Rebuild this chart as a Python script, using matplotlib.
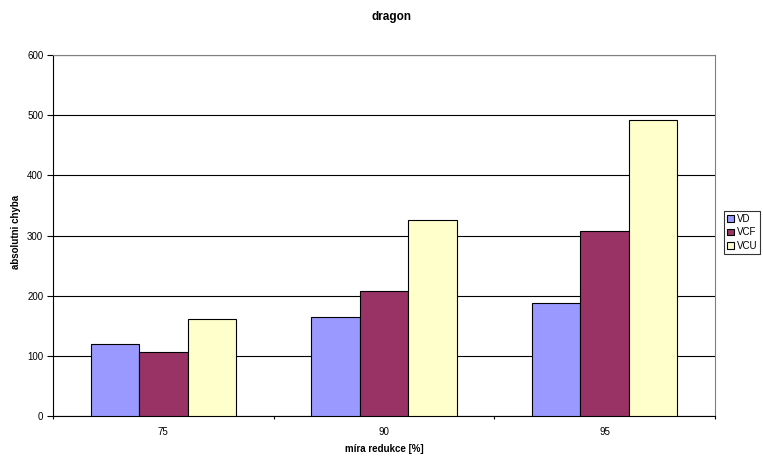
import matplotlib
matplotlib.use("Agg")
import matplotlib.pyplot as plt
import numpy as np

categories = ["75", "90", "95"]
series_names = ["VD", "VCF", "VCU"]
vd = [119, 164, 188]
vcf = [107, 208, 307]
vcu = [161, 325, 492]
colors = ["#9999FF", "#993366", "#FFFFCC"]

plt.rcParams['font.family'] = ['Liberation Sans', 'DejaVu Sans']

fig = plt.figure(figsize=(7.63, 4.57), dpi=100)
ax = fig.add_axes([53/763, 1-416/457, (715-53)/763, (416-55)/457])

x = np.arange(len(categories))
w = 0.22
for i, (vals, c, name) in enumerate(zip([vd, vcf, vcu], colors, series_names)):
    ax.bar(x + (i-1)*w, vals, width=w, color=c, edgecolor="black", linewidth=0.8,
           label=name, zorder=3)

ax.set_xlim(-0.5, 2.5)
ax.set_ylim(0, 600)
ax.set_yticks(range(0, 601, 100))
ax.yaxis.grid(True, color="black", linewidth=0.8, zorder=0)
ax.set_xticks(x)
ax.set_xticklabels(categories)
ax.set_xticks([-0.5, 0.5, 1.5, 2.5], minor=True)
ax.tick_params(axis='x', which='major', length=0, labelsize=7, pad=8)
ax.tick_params(axis='x', which='minor', length=2.5, direction='out', width=0.8)
ax.tick_params(axis='y', length=4, direction='out', width=0.8, labelsize=7, pad=3)

for s in ["top", "right"]:
    ax.spines[s].set_color("#808080")
    ax.spines[s].set_linewidth(0.8)
for s in ["left", "bottom"]:
    ax.spines[s].set_color("black")
    ax.spines[s].set_linewidth(0.8)

ax.set_xlabel("míra redukce [%]", fontsize=7, fontweight="bold", labelpad=5)
ax.set_ylabel("absolutni chyba", fontsize=7, fontweight="bold")
ax.yaxis.set_label_coords((21-53)/662, 0.51)
fig.text(392/763, 1-17/457, "dragon", fontsize=8.5, fontweight="bold", ha="center", va="center")

leg = fig.legend(loc="upper left", bbox_to_anchor=(724/763, 1-211/457), fontsize=7,
                 frameon=True, fancybox=False, edgecolor="black", handlelength=0.7,
                 handleheight=0.7, handletextpad=0.3, borderpad=0.3, labelspacing=0.35,
                 borderaxespad=0)
leg.get_frame().set_linewidth(0.8)

fig.savefig("out.png", dpi=100)
